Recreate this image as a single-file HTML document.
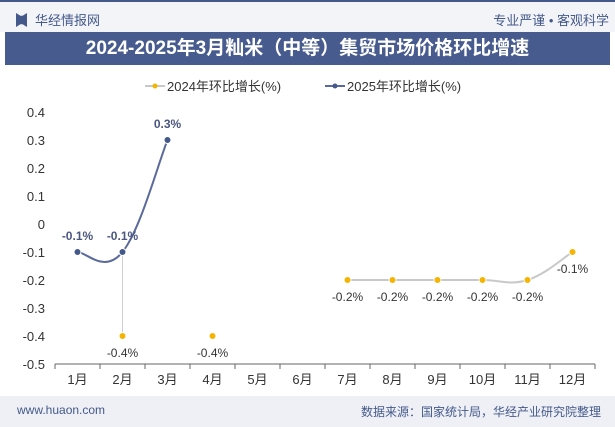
<!DOCTYPE html>
<html><head><meta charset="utf-8"><style>
body{margin:0;width:615px;height:427px;overflow:hidden;background:#fff;font-family:"Liberation Sans","Noto Sans CJK SC",sans-serif;}
#hdr{position:absolute;left:0;top:0;width:615px;height:32px;background:#f3f4f8;border-top:2px solid #44598a;box-sizing:border-box}
#title{position:absolute;left:5px;top:32px;width:605px;height:33px;background:#475b8e;color:#fff;font-weight:bold;font-size:19px;text-align:center;line-height:33px}
#foot{position:absolute;left:0;top:396px;width:615px;height:31px;background:#eef0f5;font-size:12px;color:#333}
</style></head><body>
<div id="hdr">
<div style="position:absolute;left:16px;top:11px;width:11px;height:14px;background:#44598a;clip-path:polygon(0 0,40% 20%,60% 20%,100% 0,100% 100%,60% 80%,40% 80%,0 100%)"></div>
<span style="position:absolute;left:35px;top:8px;font-size:13px;color:#44598a">华经情报网</span>
<span style="position:absolute;right:6px;top:8px;font-size:13px;color:#44598a">专业严谨 • 客观科学</span>
</div>
<div id="title">2024-2025年3月籼米（中等）集贸市场价格环比增速</div>
<svg id="chart" width="615" height="427" style="position:absolute;left:0;top:0"></svg>
<div id="foot">
<span style="position:absolute;left:17px;top:7px;color:#44598a">www.huaon.com</span>
<span style="position:absolute;right:14px;top:7px;color:#44598a">数据来源：国家统计局，华经产业研究院整理</span>
</div>
<script>
const categories=["1月","2月","3月","4月","5月","6月","7月","8月","9月","10月","11月","12月"];
const s2024=[null,-0.4,null,-0.4,null,null,-0.2,-0.2,-0.2,-0.2,-0.2,-0.1];
const s2025=[-0.1,-0.1,0.3,null,null,null,null,null,null,null,null,null];
const yTicks=[0.4,0.3,0.2,0.1,0,-0.1,-0.2,-0.3,-0.4,-0.5];
const yTickLabels=["0.4","0.3","0.2","0.1","0","-0.1","-0.2","-0.3","-0.4","-0.5"];
const NS="http://www.w3.org/2000/svg",svg=document.getElementById('chart');
const L=55,R=595,band=45;
const x=i=>L+band*(i+0.5);
const y=v=>224-v*280;
function mk(t,a,txt){const e=document.createElementNS(NS,t);for(const k in a)e.setAttribute(k,a[k]);if(txt!=null)e.textContent=txt;svg.appendChild(e);return e;}
// legend
let e=mk('line',{x1:145,y1:86,x2:165,y2:86,stroke:'#c8c8c8','stroke-width':2});
e=mk('circle',{cx:155,cy:86,r:2.5,fill:'#f5b400'});
e=mk('text',{x:167,y:91,'font-size':13,fill:'#333'},'2024年环比增长(%)');
e=mk('line',{x1:325,y1:86,x2:345,y2:86,stroke:'#5a6a9a','stroke-width':2});
e=mk('circle',{cx:335,cy:86,r:2.5,fill:'#44598a'});
e=mk('text',{x:347,y:91,'font-size':13,fill:'#333'},'2025年环比增长(%)');
// y axis labels
yTicks.forEach((v,i)=>{const t=mk('text',{x:45,y:y(v)+5,'font-size':13,fill:'#333','text-anchor':'end'},yTickLabels[i]);});
// x axis
e=mk('line',{x1:L,y1:364,x2:R,y2:364,stroke:'#666'});
for(let i=0;i<=categories.length;i++){const t=mk('line',{x1:L+band*i,y1:364,x2:L+band*i,y2:369,stroke:'#666'});}
categories.forEach((c,i)=>{const t=mk('text',{x:x(i),y:384,'font-size':13,fill:'#333','text-anchor':'middle'},c);});
function smooth(pts){let d='M'+pts[0][0]+','+pts[0][1];for(let i=0;i<pts.length-1;i++){const p0=pts[i-1]||pts[i],p1=pts[i],p2=pts[i+1],p3=pts[i+2]||p2;const t=0.2;d+=' C'+(p1[0]+(p2[0]-p0[0])*t)+','+(p1[1]+(p2[1]-p0[1])*t)+' '+(p2[0]-(p3[0]-p1[0])*t)+','+(p2[1]-(p3[1]-p1[1])*t)+' '+p2[0]+','+p2[1];}return d;}
function segs(s){const out=[];let cur=[];s.forEach((v,i)=>{if(v==null){if(cur.length)out.push(cur);cur=[];}else cur.push([x(i),y(v)]);});if(cur.length)out.push(cur);return out;}
// connector at 2月 between series
e=mk('line',{x1:x(1),y1:y(s2025[1]),x2:x(1),y2:y(s2024[1]),stroke:'#cfcfcf','stroke-width':1});
segs(s2024).forEach(sg=>{if(sg.length>1){const p=mk('path',{d:smooth(sg),fill:'none',stroke:'#c8c8c8','stroke-width':2});}});
segs(s2025).forEach(sg=>{if(sg.length>1){const p=mk('path',{d:smooth(sg),fill:'none',stroke:'#5a6a9a','stroke-width':2});}});
s2024.forEach((v,i)=>{if(v==null)return;const c=mk('circle',{cx:x(i),cy:y(v),r:3.5,fill:'#f5b400',stroke:'#fff','stroke-width':1});
const t=mk('text',{x:x(i),y:y(v)+21,'font-size':12,fill:'#333','text-anchor':'middle'},v.toFixed(1)+'%');});
s2025.forEach((v,i)=>{if(v==null)return;const c=mk('circle',{cx:x(i),cy:y(v),r:3.5,fill:'#44598a',stroke:'#fff','stroke-width':1});
const t=mk('text',{x:x(i),y:y(v)-12,'font-size':12,'font-weight':'bold',fill:'#4a5680','text-anchor':'middle'},v.toFixed(1)+'%');});
</script>
</body></html>
